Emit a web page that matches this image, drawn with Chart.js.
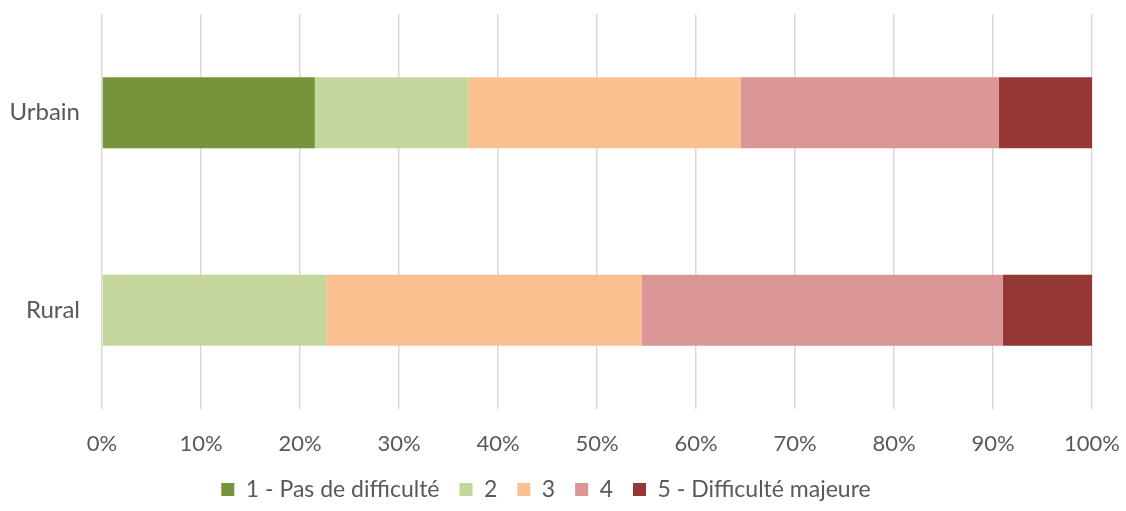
<!DOCTYPE html>
<html>
<head>
<meta charset="utf-8">
<script src="https://cdn.jsdelivr.net/npm/chart.js@4/dist/chart.umd.min.js"></script>
<style>
  html, body { margin: 0; padding: 0; background: #fff; }
  #wrap { width: 1126px; height: 511px; position: relative; }
</style>
</head>
<body>
<div id="wrap"><canvas id="chart"></canvas></div>
<script>
const categories = ['Urbain', 'Rural'];
const seriesLabels = ['1 - Pas de difficulté', '2', '3', '4', '5 - Difficulté majeure'];
const level1 = [21.5, 0];
const level2 = [15.5, 22.7];
const level3 = [27.5, 31.8];
const level4 = [26.1, 36.5];
const level5 = [9.4, 9.0];
const colors = ['#77933C', '#C3D69B', '#FAC090', '#D99694', '#953735'];

const textColor = '#595959';
const fontFamily = "Lato, 'Open Sans', sans-serif";

const values = [level1, level2, level3, level4, level5];
const datasets = seriesLabels.map((label, i) => ({
    label,
    data: values[i],
    backgroundColor: colors[i],
    borderWidth: 0,
    barPercentage: 0.9,
    categoryPercentage: 0.4
}));

new Chart(document.getElementById('chart'), {
    type: 'bar',
    data: { labels: categories, datasets },
    options: {
        indexAxis: 'y',
        responsive: true,
        maintainAspectRatio: false,
        animation: false,
        layout: { padding: { top: 14, right: 34, bottom: 0, left: 0 } },
        scales: {
            x: {
                stacked: true,
                min: 0,
                max: 100,
                border: { display: false },
                grid: { color: '#D9D9D9', lineWidth: 1.5, drawTicks: false },
                afterFit: scale => {
                    // labels need ~48px below the plot; keep the rest for the legend
                    scale.height = 49;
                    scale.paddingLeft = 0;
                    scale.paddingRight = 0;
                },
                ticks: {
                    stepSize: 10,
                    padding: 22,
                    color: textColor,
                    font: { family: fontFamily, size: 22 },
                    callback: v => v + '%'
                }
            },
            y: {
                stacked: true,
                border: { display: false },
                grid: { display: false },
                afterFit: scale => {
                    scale.width = 102;
                    scale.paddingTop = 0;
                    scale.paddingBottom = 0;
                },
                ticks: {
                    padding: 14,
                    color: textColor,
                    font: { family: fontFamily, size: 24 }
                }
            }
        },
        plugins: {
            tooltip: { enabled: false },
            legend: {
                position: 'bottom',
                labels: {
                    color: textColor,
                    font: { family: fontFamily, size: 23 },
                    boxWidth: 13,
                    boxHeight: 13,
                    padding: 20
                }
            }
        }
    }
});
</script>
</body>
</html>
